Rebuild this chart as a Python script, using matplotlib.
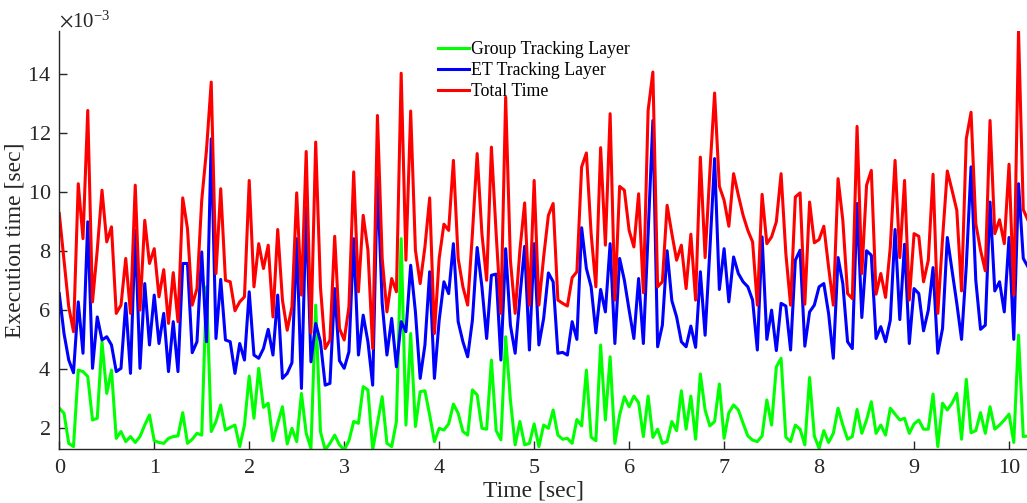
import numpy as np
import matplotlib
matplotlib.use('Agg')
import matplotlib.pyplot as plt
from matplotlib.ticker import ScalarFormatter

plt.rcParams['font.family'] = ['Liberation Serif', 'DejaVu Serif']
plt.rcParams['mathtext.fontset'] = 'stix'

# execution times in milliseconds, one sample every 50 ms
group_layer = [
    2.68, 2.51, 1.49, 1.38, 3.97, 3.92, 3.75, 2.28, 2.34, 4.93, 3.18, 3.97, 1.66, 1.89, 1.55, 1.72, 1.52, 1.72, 2.11, 2.45,
    1.58, 1.52, 1.49, 1.66, 1.72, 1.74, 2.53, 1.49, 1.63, 1.83, 1.77, 6.79, 1.89, 2.23, 2.79, 1.94, 2.03, 2.11, 1.38, 2.11,
    3.77, 2.34, 4.03, 2.71, 2.85, 1.58, 2.17, 2.73, 1.47, 2.00, 1.55, 3.18, 1.83, 1.32, 6.17, 1.89, 1.27, 1.49, 1.77, 1.44,
    1.27, 1.58, 2.23, 2.17, 3.41, 3.30, 1.27, 2.17, 3.07, 1.49, 1.38, 2.23, 8.42, 2.11, 5.21, 2.06, 3.24, 3.27, 2.45, 1.55,
    2.00, 1.94, 2.15, 2.82, 2.51, 1.89, 1.77, 3.30, 3.13, 2.00, 1.97, 4.31, 1.92, 1.61, 5.10, 2.96, 1.44, 2.23, 1.44, 1.49,
    2.15, 1.38, 2.11, 2.00, 2.62, 1.77, 1.63, 1.66, 1.49, 2.30, 2.08, 3.97, 1.70, 1.58, 4.82, 2.28, 4.42, 1.49, 2.45, 3.07,
    2.73, 3.09, 2.87, 1.72, 3.09, 1.69, 1.97, 1.49, 1.55, 2.23, 1.92, 3.27, 1.97, 3.09, 1.63, 3.84, 2.62, 2.08, 2.23, 3.50,
    1.66, 2.53, 2.79, 2.62, 2.17, 1.74, 1.60, 1.55, 1.74, 2.96, 2.11, 4.08, 4.37, 1.70, 1.55, 2.11, 1.97, 1.44, 3.72, 1.74,
    1.32, 1.92, 1.52, 1.83, 2.68, 2.11, 1.63, 1.72, 2.64, 1.83, 2.28, 2.90, 1.83, 2.11, 1.77, 2.68, 2.48, 2.28, 2.34, 1.83,
    2.15, 2.28, 1.97, 1.97, 3.16, 1.38, 2.85, 2.62, 2.85, 3.18, 1.63, 3.66, 1.85, 1.92, 2.53, 1.83, 2.73, 1.97, 2.11, 2.28,
    2.48, 1.52, 5.15, 1.72, 1.74,
]
et_layer = [
    6.56, 5.21, 4.31, 3.88, 6.28, 4.54, 8.99, 4.03, 5.77, 4.99, 5.10, 4.82, 3.92, 4.03, 6.23, 3.86, 8.70, 4.03, 6.90, 4.82,
    6.51, 4.87, 5.89, 3.92, 5.61, 3.92, 7.58, 7.58, 4.56, 4.93, 7.97, 4.93, 11.80, 5.04, 7.04, 4.99, 4.93, 3.86, 4.87, 4.31,
    6.62, 4.48, 4.37, 4.70, 5.35, 4.48, 6.51, 3.69, 3.86, 4.22, 8.42, 3.35, 9.49, 4.25, 5.55, 4.93, 3.46, 3.52, 6.73, 4.29,
    4.03, 4.59, 8.42, 4.48, 5.83, 4.93, 3.46, 10.51, 6.23, 4.48, 5.72, 4.08, 5.61, 5.27, 7.52, 5.94, 3.69, 4.82, 7.30, 3.69,
    5.66, 6.96, 6.56, 8.25, 5.61, 4.93, 4.42, 5.66, 8.12, 6.79, 5.04, 7.18, 7.22, 4.31, 8.08, 5.49, 4.54, 6.45, 8.16, 4.65,
    8.25, 4.82, 5.72, 7.26, 6.96, 4.54, 4.57, 4.48, 5.61, 5.01, 8.79, 7.41, 6.79, 5.23, 6.70, 5.94, 8.25, 4.87, 7.75, 7.01,
    6.00, 5.04, 7.07, 4.87, 8.59, 12.42, 4.76, 5.49, 8.01, 6.32, 5.77, 4.93, 4.76, 5.46, 4.74, 7.30, 5.15, 8.03, 11.13, 6.70,
    8.08, 6.28, 7.80, 7.24, 6.96, 6.79, 6.34, 4.65, 8.48, 5.01, 6.00, 4.63, 6.23, 6.14, 4.65, 7.69, 8.03, 4.78, 5.94, 6.17,
    6.79, 6.90, 5.89, 4.37, 7.78, 6.90, 4.93, 4.70, 9.61, 5.75, 8.01, 7.86, 5.04, 5.44, 4.93, 5.66, 8.73, 5.68, 8.23, 4.87,
    6.73, 6.56, 5.30, 6.00, 7.44, 4.54, 5.38, 8.46, 7.35, 6.23, 5.01, 7.50, 10.85, 7.01, 5.35, 5.49, 9.66, 6.65, 6.96, 5.94,
    8.46, 5.01, 10.28, 7.75, 7.46,
]
total_time = [
    9.27, 7.69, 6.11, 5.27, 10.28, 8.42, 12.76, 6.28, 8.03, 10.06, 8.31, 8.82, 5.89, 6.17, 7.75, 5.89, 10.23, 6.00, 9.04, 7.58,
    8.08, 6.45, 7.37, 5.55, 7.27, 5.61, 9.80, 8.76, 6.17, 6.73, 9.72, 11.41, 13.72, 7.24, 10.11, 7.01, 6.96, 5.98, 6.28, 6.45,
    10.39, 6.79, 8.25, 7.41, 8.20, 5.77, 8.73, 6.34, 5.32, 6.11, 9.97, 6.51, 11.37, 5.23, 11.69, 6.79, 4.70, 4.99, 8.50, 5.38,
    4.99, 6.11, 10.68, 6.62, 9.21, 8.03, 4.70, 12.59, 7.75, 5.94, 7.07, 6.62, 14.02, 7.69, 12.74, 8.03, 6.90, 8.14, 9.80, 5.21,
    7.75, 8.91, 8.70, 11.07, 7.75, 6.79, 6.17, 8.59, 11.30, 8.59, 7.01, 11.52, 8.59, 5.89, 13.21, 7.69, 5.89, 8.03, 9.63, 6.17,
    10.39, 6.17, 7.80, 9.21, 9.61, 6.34, 6.23, 6.14, 7.10, 7.30, 10.85, 11.32, 8.59, 6.79, 11.50, 8.20, 12.65, 6.34, 10.19, 10.06,
    8.70, 8.14, 9.94, 6.59, 12.76, 14.06, 6.79, 6.96, 9.55, 8.59, 7.69, 8.20, 6.73, 8.57, 6.34, 11.18, 7.78, 10.68, 13.35, 10.19,
    9.72, 8.84, 10.62, 9.89, 9.21, 8.70, 8.31, 6.17, 9.92, 8.25, 8.48, 8.99, 10.62, 7.92, 6.17, 9.83, 9.97, 6.20, 9.66, 8.28,
    8.39, 8.84, 7.46, 6.17, 10.45, 9.04, 6.56, 6.39, 12.22, 7.24, 10.23, 10.73, 6.54, 7.24, 6.43, 8.14, 11.07, 7.78, 10.39, 6.34,
    8.59, 8.50, 6.96, 7.69, 10.60, 5.89, 8.42, 10.71, 10.06, 9.38, 6.65, 11.80, 12.70, 8.93, 8.03, 7.33, 12.42, 8.59, 9.06, 8.25,
    10.94, 6.51, 15.44, 9.40, 9.04,
]

t = np.arange(len(total_time)) * 0.05

fig = plt.figure(figsize=(10.27, 5.03), dpi=100)
ax = fig.add_axes([0.0577, 0.1074, 0.9433, 0.831])

ax.plot(t, np.array(group_layer) * 1e-3, color='#00ff00', lw=2.2, label='Group Tracking Layer')
ax.plot(t, np.array(et_layer) * 1e-3, color='#0000ff', lw=2.2, label='ET Tracking Layer')
ax.plot(t, np.array(total_time) * 1e-3, color='#ff0000', lw=2.2, label='Total Time')

ax.set_xlim(0, 10.2)
ax.set_ylim(1.3e-3, 15.45e-3)
ax.set_xticks(range(0, 11))
ax.set_yticks(np.arange(2, 15, 2) * 1e-3)

fmt = ScalarFormatter(useMathText=True)
fmt.set_powerlimits((-3, -3))
ax.yaxis.set_major_formatter(fmt)
ax.yaxis.get_offset_text().set_fontsize(15)
ax.yaxis.get_offset_text().set_color('#262626')

for s in ['top', 'right']:
    ax.spines[s].set_visible(False)
for s in ['left', 'bottom']:
    ax.spines[s].set_color('#262626')
    ax.spines[s].set_linewidth(1.0)
ax.tick_params(direction='in', length=6, width=1.0, color='#262626',
               labelsize=16, labelcolor='#262626')
ax.tick_params(axis='x', pad=7)
ax.tick_params(axis='y', pad=6)

ax.set_xlabel('Time [sec]', fontsize=17, color='#262626')
ax.set_ylabel('Execution time [sec]', fontsize=17, color='#262626')
ax.xaxis.set_label_coords(0.49, -0.075)
ax.yaxis.set_label_coords(-0.035, 0.5)

ax.legend(loc='upper left', bbox_to_anchor=(0.391, 0.975), frameon=False,
          fontsize=12.8, handlelength=1.75, handletextpad=0.1, labelspacing=0.22,
          borderpad=0, borderaxespad=0)

fig.savefig('out.png', dpi=100)
